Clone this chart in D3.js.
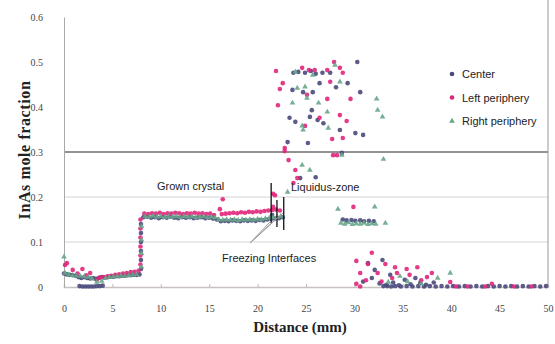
<!DOCTYPE html>
<html>
<head>
<meta charset="utf-8">
<script src="https://cdnjs.cloudflare.com/ajax/libs/d3/7.8.5/d3.min.js"></script>
<style>
  body { margin: 0; background: #fff; }
  .tick text { font-family: "Liberation Serif", serif; font-size: 10px; fill: #444; }
  .note { font-family: "Liberation Sans", Arial, sans-serif; font-size: 11px; fill: #222; }
</style>
</head>
<body>
<script>
// values: [distance mm, InAs mole fraction]
var center = [
  [0,0.03],[0.3,0.028],[0.6,0.027],[0.9,0.026],[1.2,0.025],[1.5,0.022],[1.8,0.02],[2.1,0.022],[2.4,0.02],
  [2.7,0.019],[3.0,0.02],[3.3,0.018],[3.6,0.02],[3.9,0.022],[4.2,0.021],[4.5,0.022],[4.8,0.023],[5.1,0.023],
  [5.4,0.024],[5.7,0.024],[6.0,0.025],[6.3,0.025],[6.6,0.026],[6.9,0.026],[7.2,0.027],[7.5,0.027],[7.8,0.028],
  [1.6,0.002],[1.9,0.001],[2.2,0.001],[2.5,0.001],[2.8,0.001],[3.1,0.001],[3.4,0.002],[3.7,0.002],[4.0,0.003],
  [7.95,0.04],[7.95,0.06],[7.95,0.08],[7.95,0.10],[7.95,0.12],[7.95,0.14],
  [8.2,0.155],[8.6,0.156],[9.0,0.154],[9.4,0.155],[9.8,0.153],[10.2,0.155],[10.6,0.154],[11.0,0.156],
  [11.4,0.154],[11.8,0.153],[12.2,0.155],[12.6,0.154],[13.0,0.155],[13.4,0.153],[13.8,0.154],[14.2,0.155],
  [14.6,0.153],[15.0,0.154],[15.4,0.152],[15.8,0.15],[16.2,0.146],[16.6,0.147],[17.0,0.146],[17.4,0.148],
  [17.8,0.147],[18.2,0.146],[18.6,0.148],[19.0,0.147],[19.4,0.148],[19.8,0.147],[20.2,0.149],[20.6,0.148],
  [21.0,0.15],[21.4,0.151],[21.8,0.152],[22.2,0.153],[22.6,0.155],[21.5,0.16],
  [23.7,0.476],[24.2,0.478],[24.9,0.476],[25.5,0.48],[26.0,0.474],[26.7,0.476],[27.5,0.476],[30.3,0.5],
  [23.6,0.438],[24.7,0.433],[25.7,0.433],[26.4,0.453],[28.1,0.444],[29.3,0.453],[30.6,0.433],
  [25.6,0.393],[23.3,0.376],[23.9,0.367],[25.4,0.378],[26.2,0.371],[26.8,0.364],[28.5,0.349],[30.1,0.342],
  [23.1,0.322],[25.2,0.32],[30.9,0.338],[28.7,0.298],[24.4,0.242],[26.0,0.244],
  [28.8,0.15],[29.2,0.148],[29.7,0.149],[30.1,0.147],[30.6,0.148],[31.0,0.146],[31.5,0.147],[32.0,0.146],
  [31.4,0.053],[32.9,0.06],[32.1,0.038],[33.7,0.027],[35.2,0.016],[36.8,0.009],[30.9,0.012],[31.8,0.02],
  [32.6,0.008],[33.3,0.005],[34.0,0.01],[34.6,0.004],[35.8,0.006],[36.3,0.02],[37.4,0.005],[38.2,0.01],
  [33,0.002],[33.4,0.002],[33.8,0.001],[34.2,0.002],[34.8,0.001],[35.4,0.002],[36,0.001],[36.6,0.002],
  [37.2,0.001],[37.8,0.002],[38.4,0.001],[39,0.002],[39.6,0.001],[40.2,0.002],[40.8,0.001],[41.4,0.002],
  [42,0.001],[42.6,0.002],[43.2,0.001],[43.8,0.002],[44.4,0.001],[45,0.002],[45.6,0.001],[46.2,0.002],
  [46.8,0.001],[47.4,0.002],[48,0.001],[48.6,0.002],[49.2,0.001],[49.8,0.002]
];

var leftPeriphery = [
  [0.1,0.049],[0.3,0.053],[0.9,0.038],[1.9,0.04],[2.7,0.031],[3.4,0.016],[2.3,0.026],[1.4,0.03],
  [3.7,0.021],[4.1,0.022],[4.5,0.024],[4.9,0.025],[5.3,0.027],[5.7,0.028],[6.1,0.03],[6.5,0.031],
  [6.9,0.033],[7.3,0.034],[7.7,0.036],
  [7.9,0.05],[7.9,0.07],[7.9,0.09],[7.9,0.11],[7.9,0.13],[7.9,0.15],
  [8.3,0.163],[8.7,0.162],[9.1,0.164],[9.5,0.163],[9.9,0.165],[10.3,0.162],[10.7,0.164],[11.1,0.163],
  [11.5,0.165],[11.9,0.164],[12.3,0.162],[12.7,0.164],[13.1,0.163],[13.5,0.165],[13.9,0.163],[14.3,0.164],
  [14.7,0.162],[15.1,0.163],[15.5,0.16],[16.4,0.195],[16.1,0.173],[16.3,0.162],[16.7,0.163],[17.1,0.164],
  [17.5,0.165],[17.9,0.164],[18.3,0.166],[18.7,0.165],[19.1,0.167],[19.5,0.166],[19.9,0.168],[20.3,0.167],
  [20.7,0.169],[21.1,0.17],[21.5,0.171],[21.9,0.172],[22.3,0.17],[21.6,0.207],[21.6,0.178],
  [21.9,0.48],[22.6,0.453],[22.3,0.44],[22.1,0.404],[24.6,0.487],[25.3,0.482],[25.9,0.482],[27.2,0.482],
  [27.9,0.5],[28.5,0.487],[28.8,0.476],[27.5,0.456],[25.1,0.427],[27.2,0.418],[29.6,0.418],[28.5,0.382],
  [29.2,0.369],[26.4,0.376],[24.9,0.358],[27.7,0.329],[28.8,0.331],[22.8,0.309],[27.8,0.293],[28.2,0.293],
  [23.2,0.282],[23.9,0.26],[23.7,0.231],[24.1,0.242],[22.8,0.302],[21.8,0.204],[29.9,0.178],
  [31.8,0.076],[30.2,0.058],[31.4,0.051],[33.2,0.051],[34.2,0.044],[35.4,0.04],[36.5,0.044],[30.6,0.031],
  [32.4,0.031],[34.4,0.031],[35.7,0.027],[33.9,0.02],[30.6,0.001],[30.2,0.007],[38.0,0.031],[39.9,0.011],
  [44.2,0.007],[31.2,0.015],[32.8,0.012],[36.9,0.015],[37.5,0.022],
  [40.5,0.001],[41.7,0.001],[43.5,0.001],[46.5,0.001],[48.3,0.001]
];

var rightPeriphery = [
  [0,0.067],[0.1,0.031],[0.5,0.027],[0.9,0.026],[1.3,0.025],[1.7,0.024],[2.1,0.023],[2.5,0.022],
  [2.9,0.018],[3.4,0.011],[3.9,0.013],[4.3,0.02],[4.7,0.022],[5.1,0.023],[5.5,0.024],[5.9,0.025],
  [6.3,0.025],[6.7,0.026],[7.1,0.027],[7.5,0.028],
  [8.0,0.045],[8.0,0.075],[8.0,0.105],[8.0,0.135],
  [8.4,0.157],[8.8,0.156],[9.2,0.158],[9.6,0.156],[10.0,0.157],[10.4,0.155],[10.8,0.157],[11.2,0.156],
  [11.6,0.157],[12.0,0.155],[12.4,0.157],[12.8,0.156],[13.2,0.157],[13.6,0.155],[14.0,0.156],[14.4,0.157],
  [14.8,0.155],[15.2,0.156],[15.6,0.154],[16.0,0.15],[16.4,0.149],[16.8,0.15],[17.2,0.149],[17.6,0.15],
  [18.0,0.148],[18.4,0.15],[18.8,0.149],[19.2,0.15],[19.6,0.149],[20.0,0.151],[20.4,0.15],[20.8,0.152],
  [21.2,0.153],[21.6,0.154],[22.0,0.155],[22.4,0.157],
  [23.9,0.478],[25.7,0.471],[28.0,0.493],[28.5,0.456],[24.1,0.442],[25.1,0.42],[23.6,0.409],[26.3,0.409],
  [27.2,0.389],[24.7,0.349],[24.6,0.358],[27.3,0.353],[28.7,0.293],[32.3,0.418],[32.4,0.393],[32.9,0.378],
  [33.0,0.284],[24.6,0.271],[25.4,0.26],[23.1,0.211],[28.3,0.173],[32.1,0.178],[24.9,0.445],
  [28.6,0.142],[29.0,0.14],[29.4,0.143],[29.8,0.139],[30.2,0.141],[30.6,0.14],[31.0,0.142],[31.4,0.139],
  [31.8,0.141],[32.2,0.14],[33.2,0.142],
  [39.9,0.031],[34.7,0.024],[33.5,0.011],[36.9,0.007],[38.6,0.02],[35.5,0.012]
];

var yTicks = [0, 0.1, 0.2, 0.3, 0.4, 0.5, 0.6];
var yTickLabels = ["0", "0.1", "0.2", "0.3", "0.4", "0.5", "0.6"];
var xTicks = [0, 5, 10, 15, 20, 25, 30, 35, 40, 45, 50];
var seriesNames = ["Center", "Left periphery", "Right periphery"];
var interfaceX = [21.4, 22.0, 22.7];

var colors = ["#4a4a7c", "#e0267a", "#66a68a"];

var svg = d3.select("body").append("svg")
  .attr("width", 555).attr("height", 344);

var x = d3.scaleLinear().domain([0, 50]).range([64, 548]);
var y = d3.scaleLinear().domain([0, 0.6]).range([287, 17]);

// gridlines
svg.selectAll(".grid").data([0.1, 0.2]).enter().append("line")
  .attr("x1", x(0)).attr("x2", x(50))
  .attr("y1", function(d) { return y(d); }).attr("y2", function(d) { return y(d); })
  .style("stroke", "#d4d4d4").style("stroke-width", 1);
svg.append("line")
  .attr("x1", x(0)).attr("x2", x(50)).attr("y1", y(0.3)).attr("y2", y(0.3))
  .style("stroke", "#6e6e6e").style("stroke-width", 1.5);
svg.append("line")
  .attr("x1", x(50)).attr("x2", x(50)).attr("y1", 0).attr("y2", y(0))
  .style("stroke", "#999").style("stroke-width", 1);

// axes
var xAxis = svg.append("g").attr("transform", "translate(0," + y(0) + ")")
  .call(d3.axisBottom(x).tickValues(xTicks).tickSize(-3).tickPadding(18));
var yAxis = svg.append("g").attr("transform", "translate(" + x(0) + ",0)")
  .call(d3.axisLeft(y).tickValues(yTicks).tickSize(0).tickPadding(21)
    .tickFormat(function(d, i) { return yTickLabels[i]; }));
xAxis.select(".domain").style("stroke", "#c9c0c0").style("stroke-width", 1.5);
xAxis.selectAll(".tick line").style("stroke", "#bbb");
yAxis.select(".domain").style("stroke", "#aaa");

// series
function dots(data, i) {
  svg.append("g").selectAll("circle").data(data).enter().append("circle")
    .attr("cx", function(d) { return x(d[0]); })
    .attr("cy", function(d) { return y(d[1]); })
    .attr("r", 2.3)
    .style("fill", colors[i]).style("opacity", 0.9);
}
dots(center, 0);
dots(leftPeriphery, 1);
var tri = d3.symbol().type(d3.symbolTriangle).size(14);
svg.append("g").selectAll("path").data(rightPeriphery).enter().append("path")
  .attr("d", tri)
  .attr("transform", function(d) { return "translate(" + x(d[0]) + "," + y(d[1]) + ")"; })
  .style("fill", colors[2]).style("opacity", 0.9);

// annotations
svg.selectAll(".iface").data(interfaceX).enter().append("line")
  .attr("x1", function(d) { return x(d); }).attr("x2", function(d) { return x(d); })
  .attr("y1", function(d, i) { return [183, 200, 197][i]; })
  .attr("y2", function(d, i) { return [223, 227, 230][i]; })
  .style("stroke", "#111").style("stroke-width", 1.3);
[[270, 222], [277, 218], [283, 213]].forEach(function(p) {
  svg.append("line").attr("x1", 250).attr("y1", 243).attr("x2", p[0]).attr("y2", p[1])
    .style("stroke", "#999").style("stroke-width", 1);
});
svg.append("text").attr("class", "note").attr("x", 157).attr("y", 190).text("Grown crystal");
svg.append("text").attr("class", "note").attr("x", 291).attr("y", 191).text("Liquidus-zone");
svg.append("text").attr("class", "note").attr("x", 222).attr("y", 262).text("Freezing Interfaces");

// legend
seriesNames.forEach(function(name, i) {
  var ly = 74 + i * 23.5;
  if (i < 2) {
    svg.append("circle").attr("cx", 452).attr("cy", ly).attr("r", 2.3).style("fill", colors[i]);
  } else {
    svg.append("path").attr("d", tri).attr("transform", "translate(452," + ly + ")").style("fill", colors[i]);
  }
  svg.append("text").attr("class", "note").attr("x", 462).attr("y", ly + 4).text(name);
});

// axis titles
svg.append("text").attr("x", 300).attr("y", 332).attr("text-anchor", "middle")
  .style("font-family", "Liberation Serif, serif").style("font-weight", "bold").style("font-size", "15px")
  .style("fill", "#222").text("Distance (mm)");
svg.append("text").attr("transform", "translate(30,150) rotate(-90)").attr("text-anchor", "middle")
  .style("font-family", "Liberation Serif, serif").style("font-weight", "bold").style("font-size", "16px")
  .style("letter-spacing", "0.6px")
  .style("fill", "#222").text("InAs mole fraction");
</script>
</body>
</html>
